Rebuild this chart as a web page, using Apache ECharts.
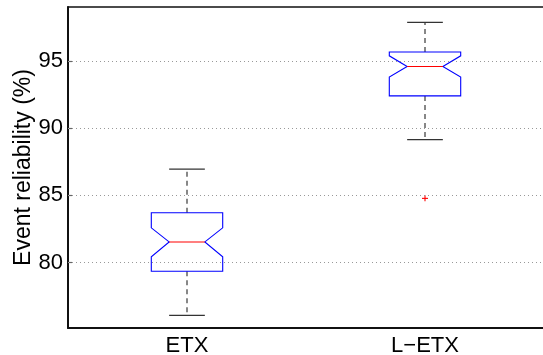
<!DOCTYPE html>
<html>
<head>
<meta charset="utf-8">
<script src="https://cdn.jsdelivr.net/npm/echarts@6/dist/echarts.min.js"></script>
<style>
html,body{margin:0;padding:0;background:#fff;}
#chart{width:543px;height:355px;}
</style>
</head>
<body>
<div id="chart"></div>
<script>
// ---- data ----
const categories = ['ETX', 'L\u2212ETX'];
const whiskerLow  = [76.07, 89.14];
const q1          = [79.35, 92.39];
const notchLow    = [80.42, 93.79];
const medians     = [81.53, 94.58];
const notchHigh   = [82.58, 95.37];
const q3          = [83.70, 95.65];
const whiskerHigh = [86.95, 97.85];
const outlierCat  = [1];
const outlierVal  = [84.77];
const yTicks      = [80, 85, 90, 95];
const yMin = 75.13, yMax = 99;

const boxData = categories.map((c, i) => [i, whiskerLow[i], q1[i], notchLow[i], medians[i], notchHigh[i], q3[i], whiskerHigh[i]]);
const outData = outlierCat.map((c, i) => [c, outlierVal[i]]);

const FONT = 'Liberation Sans, Arial, Helvetica, sans-serif';

function renderBox(params, api) {
  const i = api.value(0);
  const bw = api.size([1, 0])[0];
  const hw = bw * 0.15, nw = bw * 0.075, cw = bw * 0.075;
  const x = api.coord([i, api.value(4)])[0];
  const y = v => api.coord([i, v])[1];
  const wl = y(api.value(1)), b1 = y(api.value(2)), nl = y(api.value(3)),
        md = y(api.value(4)), nh = y(api.value(5)), b3 = y(api.value(6)), wh = y(api.value(7));
  const whisk = {stroke: '#555', lineWidth: 1.4, lineDash: [5, 4], fill: null};
  const cap = {stroke: '#333', lineWidth: 1.2, fill: null};
  return {
    type: 'group',
    children: [
      {type: 'line', shape: {x1: x, y1: b3, x2: x, y2: wh}, style: whisk},
      {type: 'line', shape: {x1: x, y1: b1, x2: x, y2: wl}, style: whisk},
      {type: 'line', shape: {x1: x - cw, y1: wh, x2: x + cw, y2: wh}, style: cap},
      {type: 'line', shape: {x1: x - cw, y1: wl, x2: x + cw, y2: wl}, style: cap},
      {type: 'polygon', shape: {points: [
        [x - hw, b3], [x + hw, b3], [x + hw, nh], [x + nw, md], [x + hw, nl], [x + hw, b1],
        [x - hw, b1], [x - hw, nl], [x - nw, md], [x - hw, nh]
      ]}, style: {stroke: '#0000ff', lineWidth: 1.1, fill: null}},
      {type: 'line', shape: {x1: x - nw, y1: md, x2: x + nw, y2: md}, style: {stroke: '#ff0000', lineWidth: 1.1}}
    ]
  };
}

function renderOut(params, api) {
  const p = api.coord([api.value(0), api.value(1)]);
  const s = 3;
  const st = {stroke: '#ff0000', lineWidth: 1.1};
  return {type: 'group', children: [
    {type: 'line', shape: {x1: p[0] - s, y1: p[1], x2: p[0] + s, y2: p[1]}, style: st},
    {type: 'line', shape: {x1: p[0], y1: p[1] - s, x2: p[0], y2: p[1] + s}, style: st}
  ]};
}

const chart = echarts.init(document.getElementById('chart'), null, {renderer: 'canvas'});
chart.setOption({
  animation: false,
  backgroundColor: '#fff',
  textStyle: {fontFamily: FONT},
  grid: {left: 68, top: 7, width: 476, height: 321, show: false, containLabel: false, outerBoundsMode: 'none'},
  xAxis: [{
    type: 'category', data: categories, boundaryGap: true,
    axisLine: {lineStyle: {color: '#111', width: 2}},
    axisTick: {inside: true, length: 4, alignWithLabel: true, lineStyle: {color: '#666', width: 1.2}},
    axisLabel: {fontSize: 22, color: '#000', margin: 7, fontFamily: FONT},
    splitLine: {show: false}
  }, {
    type: 'category', data: categories, boundaryGap: true, position: 'top',
    axisLine: {show: true, lineStyle: {color: '#111', width: 1.5}},
    axisTick: {inside: true, length: 4, alignWithLabel: true, lineStyle: {color: '#666', width: 1.2}},
    axisLabel: {show: false}, splitLine: {show: false}
  }],
  yAxis: {
    type: 'value', min: yMin, max: yMax,
    name: 'Event reliability (%)', nameLocation: 'middle', nameGap: 33, nameMoveOverlap: false,
    nameTextStyle: {fontSize: 23, color: '#000', fontFamily: FONT},
    axisLine: {show: true, lineStyle: {color: '#111', width: 2}},
    axisTick: {show: true, inside: true, length: 4, customValues: yTicks, lineStyle: {color: '#666', width: 1.2}},
    axisLabel: {fontSize: 22, color: '#000', margin: 5, customValues: yTicks, fontFamily: FONT},
    splitLine: {show: false}
  },
  series: [{
    type: 'custom', xAxisIndex: 0, renderItem: renderBox, data: boxData,
    encode: {x: 0, y: [1, 2, 3, 4, 5, 6, 7]}, clip: false,
    markLine: {
      silent: true, symbol: ['none', 'none'], label: {show: false},
      lineStyle: {color: '#999', type: [1, 3], width: 1},
      emphasis: {disabled: true},
      data: yTicks.map(v => ({yAxis: v}))
    }
  }, {
    type: 'custom', xAxisIndex: 0, renderItem: renderOut, data: outData,
    encode: {x: 0, y: 1}
  }]
});
</script>
</body>
</html>
